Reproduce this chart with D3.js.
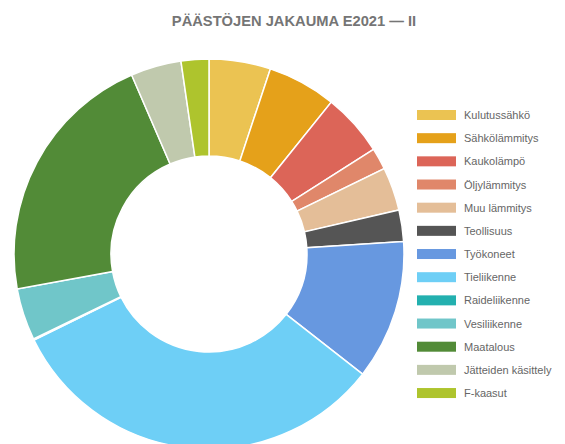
<!DOCTYPE html>
<html>
<head>
<meta charset="utf-8">
<script src="https://cdn.jsdelivr.net/npm/d3@7"></script>
<style>
  body { margin: 0; background: #fff; }
  svg { display: block; font-family: Arial, "Liberation Sans", sans-serif; }
</style>
</head>
<body>
<svg width="565" height="444"></svg>
<script>
// share of emissions, %
var categories = ["Kulutussähkö", "Sähkölämmitys", "Kaukolämpö", "Öljylämmitys", "Muu lämmitys",
  "Teollisuus", "Työkoneet", "Tieliikenne", "Raideliikenne", "Vesiliikenne", "Maatalous",
  "Jätteiden käsittely", "F-kaasut"];
var values = [5.1, 5.7, 5.2, 1.8, 3.6, 2.6, 11.6, 32.2, 0.1, 4.3, 21.4, 4.2, 2.3];
var colors = ["#ebc352", "#e5a11a", "#dc6558", "#e0876a", "#e4be98", "#555555", "#6798e0",
  "#6ecff6", "#23b0af", "#70c6c9", "#528b37", "#c0c9ad", "#aec42d"];

var svg = d3.select("svg"),
    cx = 209, cy = 254,
    outerRadius = 195,
    innerRadius = 98;

var color = d3.scaleOrdinal()
    .domain(categories)
    .range(colors);

var pie = d3.pie()
    .sort(null)
    .value(function(d) { return d.value; });

var arc = d3.arc()
    .innerRadius(innerRadius)
    .outerRadius(outerRadius);

var data = categories.map(function(c, i) { return {name: c, value: values[i]}; });

svg.append("text")
    .attr("x", 294)
    .attr("y", 26)
    .attr("text-anchor", "middle")
    .style("font-size", "14.7px")
    .style("font-weight", "bold")
    .style("fill", "#757575")
    .text("PÄÄSTÖJEN JAKAUMA E2021 — II");

var g = svg.append("g")
    .attr("transform", "translate(" + cx + "," + cy + ")");

g.selectAll("path")
  .data(pie(data))
  .enter().append("path")
    .attr("d", arc)
    .style("fill", function(d) { return color(d.data.name); })
    .style("stroke", "#fff")
    .style("stroke-width", 1.5);

// legend
var legend = svg.append("g")
    .attr("transform", "translate(417,110)");

var row = legend.selectAll("g")
  .data(categories)
  .enter().append("g")
    .attr("transform", function(d, i) { return "translate(0," + (i * 23.17) + ")"; });

row.append("rect")
    .attr("width", 39)
    .attr("height", 10)
    .style("fill", function(d) { return color(d); });

row.append("text")
    .attr("x", 47)
    .attr("y", 9)
    .style("font-size", "11px")
    .style("fill", "#666")
    .text(function(d) { return d; });
</script>
</body>
</html>
